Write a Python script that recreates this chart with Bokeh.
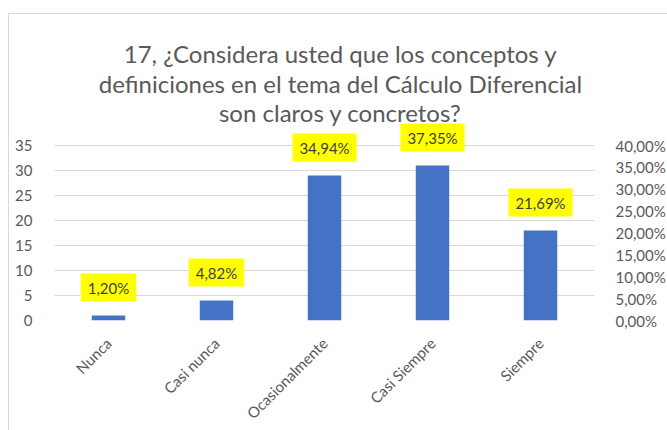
import math
from bokeh.plotting import figure
from bokeh.models import (FixedTicker, LinearAxis, Range1d, CustomJSTickFormatter,
                          Label, ColumnDataSource)
from bokeh.embed import file_html
from bokeh.resources import INLINE

title_lines = ["17, ¿Considera usted que los conceptos y",
               "definiciones en el tema del Cálculo Diferencial",
               "son claros y concretos?"]
categories = ["Nunca", "Casi nunca", "Ocasionalmente", "Casi Siempre", "Siempre"]
values = [1, 4, 29, 31, 18]
left_ticks = [0, 5, 10, 15, 20, 25, 30, 35]
right_ticks = [0.0, 0.05, 0.10, 0.15, 0.20, 0.25, 0.30, 0.35, 0.40]

total = sum(values)
pct_text = [("%.2f" % (v / total * 100)).replace(".", ",") + "%" for v in values]

FONT = "Lato"
GREY = "#595959"
Y_TOP = 61.2   # headroom above the axis so title and labels sit inside the frame

p = figure(x_range=categories, y_range=Range1d(0, Y_TOP), width=659, height=417,
           output_backend="svg", toolbar_location=None,
           min_border_left=45, min_border_right=70, min_border_top=0,
           min_border_bottom=111, margin=(13, 0, 0, 8),
           styles={"border-left": "1px solid #D9D9D9", "border-top": "1px solid #D9D9D9"})
p.outline_line_color = None
p.background_fill_color = "white"
p.border_fill_color = "white"

src = ColumnDataSource(dict(x=categories, top=values))
p.vbar(x="x", top="top", width=0.31, source=src, color="#4472C4", line_color=None)

# left axis
ya = p.yaxis[0]
ya.ticker = FixedTicker(ticks=left_ticks)
ya.axis_line_color = None
ya.major_tick_line_color = None
ya.minor_tick_line_color = None
ya.major_label_standoff = 16
ya.major_label_text_font = FONT
ya.major_label_text_font_size = "15px"
ya.major_label_text_color = GREY

p.ygrid.ticker = FixedTicker(ticks=left_ticks)
p.ygrid.grid_line_color = "#D9D9D9"
p.xgrid.grid_line_color = None

# right axis
p.extra_y_ranges = {"pct": Range1d(0, 0.40 / 35 * Y_TOP)}
ra = LinearAxis(y_range_name="pct", ticker=FixedTicker(ticks=right_ticks),
                formatter=CustomJSTickFormatter(
                    code="return (tick*100).toFixed(2).replace('.', ',') + '%';"))
ra.axis_line_color = None
ra.major_tick_line_color = None
ra.minor_tick_line_color = None
ra.major_label_standoff = 15
ra.major_label_text_font = FONT
ra.major_label_text_font_size = "15px"
ra.major_label_text_color = GREY
p.add_layout(ra, "right")

# x axis
xa = p.xaxis[0]
xa.axis_line_color = None
xa.major_tick_line_color = None
xa.major_label_orientation = math.pi / 4
xa.major_label_standoff = 14
xa.major_label_text_font = FONT
xa.major_label_text_font_size = "15px"
xa.major_label_text_color = GREY

# data labels
for i, (v, t) in enumerate(zip(values, pct_text)):
    p.add_layout(Label(x=i + 0.5, y=v, y_offset=28, text=t,
                       text_align="center", text_baseline="middle",
                       text_font=FONT, text_font_size="15px",
                       text_color="#404040",
                       background_fill_color="#FFFF00",
                       padding=dict(left=7, right=7, top=5, bottom=5)))

# title (three centred lines)
for j, line in enumerate(title_lines):
    p.add_layout(Label(x=2.5, x_offset=16, y=53.4 - j * 5.9, text=line,
                       text_align="center", text_baseline="alphabetic",
                       text_font=FONT, text_font_size="24px",
                       text_color=GREY))

open("out.html", "w").write(file_html(p, INLINE))
